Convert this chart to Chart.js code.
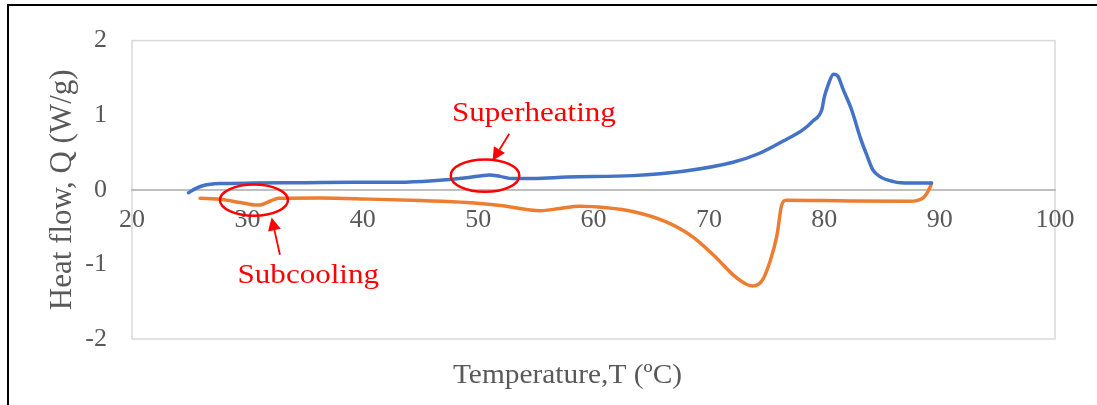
<!DOCTYPE html>
<html>
<head>
<meta charset="utf-8">
<script src="https://cdn.jsdelivr.net/npm/chart.js@4.4.0/dist/chart.umd.min.js"></script>
<style>
  html, body { margin: 0; padding: 0; background: #fff; }
  #wrap { position: relative; width: 1097px; height: 405px; }
</style>
</head>
<body>
<div id="wrap"><canvas id="myChart" width="1097" height="405"></canvas></div>
<script>
// heating curve (blue)
const heatTemp = [24.9, 25.5, 26.2, 27.6, 30.5, 35, 39.2, 43.2, 46.1, 49.0, 51.0, 51.9, 53.0, 54.8, 57.7, 63.4, 67.8, 72.1, 74.4, 76.4, 78.2, 79.0, 79.8, 80.0, 80.3, 80.8, 81.2, 81.6, 82.4, 83.1, 83.7, 84.2, 84.8, 86.0, 87.4, 89.3];
const heatFlow = [-0.04, 0.015, 0.057, 0.083, 0.09, 0.095, 0.10, 0.10, 0.12, 0.16, 0.20, 0.18, 0.15, 0.15, 0.17, 0.19, 0.25, 0.37, 0.49, 0.65, 0.81, 0.92, 1.08, 1.24, 1.39, 1.55, 1.52, 1.36, 1.06, 0.71, 0.46, 0.27, 0.18, 0.11, 0.09, 0.09];

// cooling curve (orange)
const coolTemp = [25.9, 27.6, 29.4, 30.8, 31.2, 32.0, 32.7, 36.3, 40.6, 45.0, 49.0, 51.9, 55.4, 57.1, 58.8, 61.1, 63.4, 66.3, 68.6, 70.7, 72.1, 73.3, 73.8, 74.6, 75.3, 75.9, 76.3, 76.7, 80, 87.4, 88.6, 89.15, 89.3];
const coolFlow = [-0.114, -0.127, -0.17, -0.205, -0.2, -0.15, -0.114, -0.11, -0.125, -0.145, -0.17, -0.21, -0.28, -0.25, -0.22, -0.24, -0.29, -0.43, -0.63, -0.92, -1.14, -1.27, -1.29, -1.22, -0.96, -0.61, -0.21, -0.14, -0.145, -0.155, -0.105, 0.026, 0.09];

const xTicks = [20, 30, 40, 50, 60, 70, 80, 90, 100];
const yTicks = [-2, -1, 0, 1, 2];

const xTitle = "Temperature,T (ºC)";
const yTitle = "Heat flow, Q (W/g)";

// callouts, placed in data units
const callouts = [
  { text: "Superheating", tx: 54.84, ty: 0.925, ex: 50.6, ey: 0.19, rx: 2.97, ry: 0.217, from: [52.7, 0.75], to: [51.25, 0.39] },
  { text: "Subcooling", tx: 35.28, ty: -1.246, ex: 30.57, ey: -0.138, rx: 2.95, ry: 0.21, from: [32.82, -0.87], to: [32.1, -0.37] }
];

const toPoints = (xs, ys) => xs.map((x, i) => ({ x: x, y: ys[i] }));

const grey = "#595959";
const serif = "'Liberation Serif', 'Times New Roman', serif";

const decorPlugin = {
  id: "decor",
  beforeDraw(chart) {
    const c = chart.ctx, a = chart.chartArea;
    c.save();
    c.fillStyle = "#fff";
    c.fillRect(0, 0, chart.width, chart.height);
    // outer frame
    c.strokeStyle = "#000";
    c.lineWidth = 2;
    c.beginPath();
    c.moveTo(8, chart.height);
    c.lineTo(8, 5);
    c.lineTo(chart.width, 5);
    c.stroke();
    // plot area border
    c.strokeStyle = "#d9d9d9";
    c.lineWidth = 1.5;
    c.strokeRect(a.left, a.top, a.right - a.left, a.bottom - a.top);
    c.restore();
  },
  afterDatasetsDraw(chart) {
    const c = chart.ctx, a = chart.chartArea;
    const xs = chart.scales.x, ys = chart.scales.y;
    c.save();
    callouts.forEach(k => {
      const cx = xs.getPixelForValue(k.ex), cy = ys.getPixelForValue(k.ey);
      const rx = Math.abs(xs.getPixelForValue(k.ex + k.rx) - cx);
      const ry = Math.abs(ys.getPixelForValue(k.ey + k.ry) - cy);
      c.strokeStyle = "#ff0000";
      c.lineWidth = 2.5;
      c.beginPath();
      c.ellipse(cx, cy, rx, ry, 0, 0, Math.PI * 2);
      c.stroke();
      // arrow
      const x1 = xs.getPixelForValue(k.from[0]), y1 = ys.getPixelForValue(k.from[1]);
      const x2 = xs.getPixelForValue(k.to[0]), y2 = ys.getPixelForValue(k.to[1]);
      const ang = Math.atan2(y2 - y1, x2 - x1);
      const hl = 13, hw = 6.5;
      c.lineWidth = 1.8;
      c.beginPath();
      c.moveTo(x1, y1);
      c.lineTo(x2 - hl * Math.cos(ang), y2 - hl * Math.sin(ang));
      c.stroke();
      c.fillStyle = "#ff0000";
      c.beginPath();
      c.moveTo(x2, y2);
      c.lineTo(x2 - hl * Math.cos(ang) + hw * Math.sin(ang), y2 - hl * Math.sin(ang) - hw * Math.cos(ang));
      c.lineTo(x2 - hl * Math.cos(ang) - hw * Math.sin(ang), y2 - hl * Math.sin(ang) + hw * Math.cos(ang));
      c.closePath();
      c.fill();
      // label
      c.save();
      c.translate(xs.getPixelForValue(k.tx), ys.getPixelForValue(k.ty));
      c.scale(1.15, 1);
      c.font = "27px " + serif;
      c.textAlign = "center";
      c.textBaseline = "alphabetic";
      c.fillText(k.text, 0, 0);
      c.restore();
    });
    // x axis title, below the plot area
    c.save();
    c.translate((a.left + a.right) / 2 - 26, a.bottom + 44);
    c.scale(1.05, 1);
    c.font = "28px " + serif;
    c.fillStyle = grey;
    c.textAlign = "center";
    c.textBaseline = "alphabetic";
    c.fillText(xTitle, 0, 0);
    c.restore();
    c.restore();
  }
};

const ctx = document.getElementById("myChart").getContext("2d");
const myChart = new Chart(ctx, {
  type: "scatter",
  data: {
    datasets: [
      {
        label: "Heating",
        data: toPoints(heatTemp, heatFlow),
        showLine: true,
        borderColor: "#4472C4",
        borderWidth: 3.5,
        pointRadius: 0,
        cubicInterpolationMode: "monotone",
        borderCapStyle: "round",
        borderJoinStyle: "round"
      },
      {
        label: "Cooling",
        data: toPoints(coolTemp, coolFlow),
        showLine: true,
        borderColor: "#ED7D31",
        borderWidth: 3.5,
        pointRadius: 0,
        cubicInterpolationMode: "monotone",
        borderCapStyle: "round",
        borderJoinStyle: "round"
      }
    ]
  },
  options: {
    responsive: false,
    animation: false,
    layout: { padding: { left: 8, top: 35, right: 42, bottom: 66 } },
    plugins: {
      legend: { display: false },
      tooltip: { enabled: false }
    },
    scales: {
      x: {
        type: "linear",
        position: { y: 0 },
        min: xTicks[0],
        max: xTicks[xTicks.length - 1],
        afterBuildTicks: (s) => { s.ticks = xTicks.map(v => ({ value: v })); },
        grid: { display: false, drawTicks: false },
        border: { display: true, color: "#bfbfbf", width: 2 },
        ticks: {
          padding: 15,
          color: grey,
          font: { family: serif, size: 26 },
          maxRotation: 0
        }
      },
      y: {
        type: "linear",
        min: yTicks[0],
        max: yTicks[yTicks.length - 1],
        afterBuildTicks: (s) => { s.ticks = yTicks.map(v => ({ value: v })); },
        afterFit: (s) => { s.width = 124; },
        grid: { display: false, drawTicks: false },
        border: { display: false },
        ticks: {
          padding: 25,
          color: grey,
          font: { family: serif, size: 26 }
        },
        title: {
          display: true,
          text: yTitle,
          color: grey,
          font: { family: serif, size: 31 },
          padding: { top: 36, bottom: 0 }
        }
      }
    }
  },
  plugins: [decorPlugin]
});
</script>
</body>
</html>
